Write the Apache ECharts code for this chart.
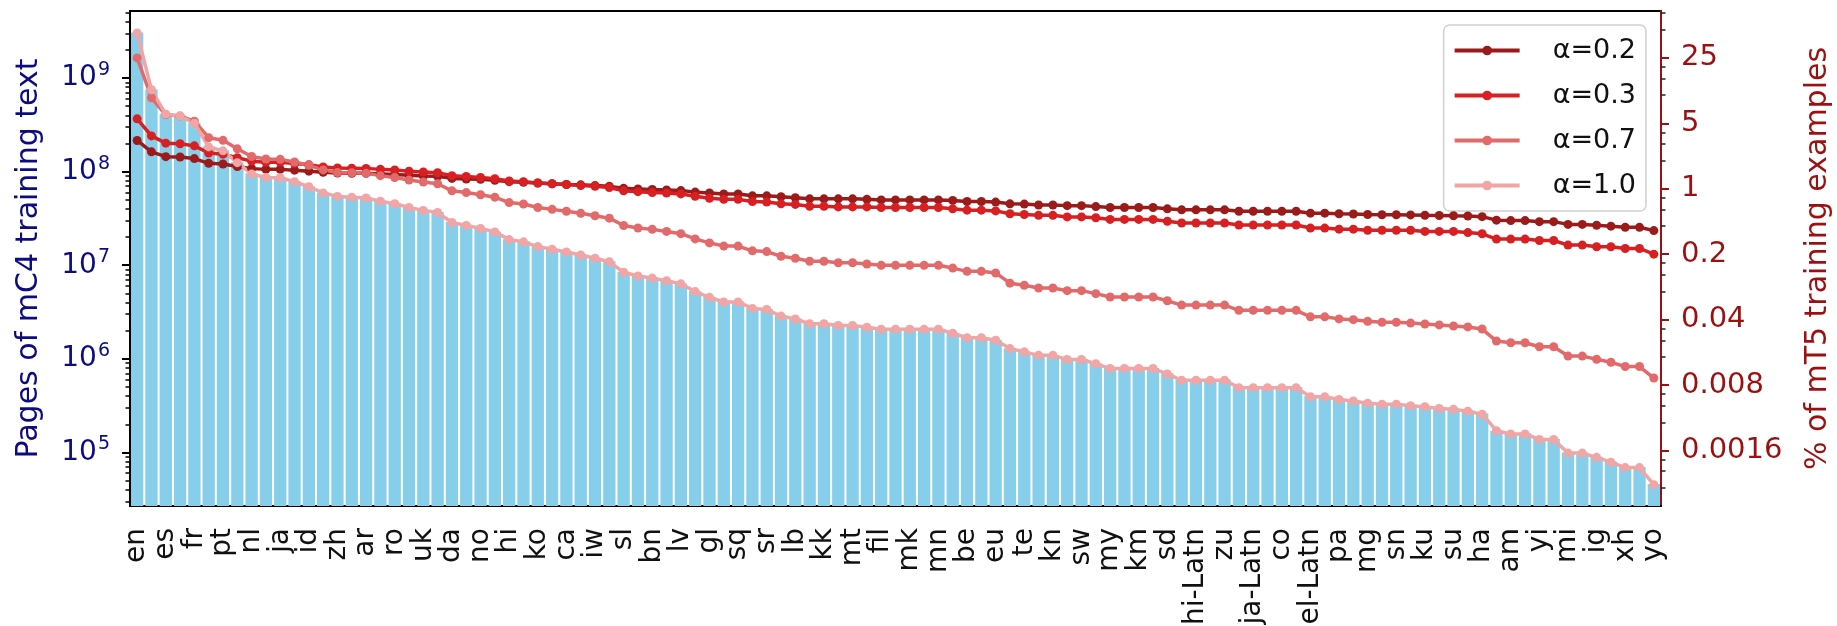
<!DOCTYPE html>
<html>
<head>
<meta charset="utf-8">
<script src="https://cdn.jsdelivr.net/npm/echarts@6/dist/echarts.min.js"></script>
<style>
html, body { margin: 0; padding: 0; background: #fff; }
#main { width: 1837px; height: 626px; }
</style>
</head>
<body>
<div id="main"></div>
<script>
// mC4 languages, sorted by number of pages
var languages = ['en','ru','es','de','fr','it','pt','pl','nl','tr',
  'ja','vi','id','cs','zh','fa','ar','sv','ro','el',
  'uk','hu','da','fi','no','bg','hi','sk','ko','th',
  'ca','ms','iw','lt','sl','mr','bn','et','lv','az',
  'gl','cy','sq','ta','sr','ne','lb','hy','kk','ka',
  'mt','af','fil','is','mk','ml','mn','ur','be','la',
  'eu','tg','te','fy','kn','ky','sw','so','my','uz',
  'km','ru-Latn','sd','gu','hi-Latn','jv','zu','si','ja-Latn','eo',
  'co','ga','el-Latn','zh-Latn','pa','ceb','mg','ps','sn','gd',
  'ku','hmn','su','ht','ha','ny','am','bg-Latn','yi','lo',
  'mi','sm','ig','haw','xh','st','yo'];

// pages of mC4 training text, in millions
var pagesMillions = [3067, 756, 416, 397, 333, 186, 169, 126, 96, 88,
  87, 79, 70, 60, 55, 54, 53, 49, 46, 42,
  39, 37, 29, 27, 25, 23, 19, 18, 16, 15,
  14, 13, 12, 11, 8.5, 7.8, 7.4, 6.9, 6.4, 5.3,
  4.6, 4.1, 4.1, 3.5, 3.4, 2.9, 2.7, 2.4, 2.4, 2.3,
  2.3, 2.2, 2.1, 2.1, 2.1, 2.1, 2.1, 1.9, 1.7, 1.7,
  1.6, 1.3, 1.2, 1.1, 1.1, 1.0, 1.0, 0.9, 0.8, 0.8,
  0.8, 0.8, 0.7, 0.6, 0.6, 0.6, 0.6, 0.5, 0.5, 0.5,
  0.5, 0.5, 0.4, 0.4, 0.37, 0.36, 0.34, 0.33, 0.33, 0.32,
  0.31, 0.30, 0.29, 0.28, 0.26, 0.17, 0.16, 0.16, 0.14, 0.14,
  0.10, 0.10, 0.09, 0.08, 0.07, 0.07, 0.046];

// % of mT5 training examples for each alpha
var shareAlpha02 = [3.28, 2.48, 2.20, 2.18, 2.10, 1.87, 1.84, 1.73, 1.64, 1.61,
  1.61, 1.58, 1.54, 1.50, 1.47, 1.46, 1.46, 1.44, 1.42, 1.39,
  1.37, 1.36, 1.29, 1.27, 1.26, 1.23, 1.19, 1.17, 1.15, 1.13,
  1.11, 1.10, 1.08, 1.06, 1.01, 0.995, 0.98, 0.97, 0.955, 0.92,
  0.90, 0.88, 0.88, 0.84, 0.84, 0.82, 0.80, 0.78, 0.78, 0.78,
  0.78, 0.77, 0.76, 0.76, 0.76, 0.76, 0.76, 0.75, 0.73, 0.73,
  0.72, 0.69, 0.685, 0.67, 0.67, 0.66, 0.66, 0.645, 0.63, 0.63,
  0.63, 0.63, 0.61, 0.595, 0.595, 0.595, 0.595, 0.574, 0.574, 0.574,
  0.574, 0.574, 0.548, 0.548, 0.54, 0.537, 0.531, 0.528, 0.528, 0.525,
  0.521, 0.518, 0.514, 0.511, 0.503, 0.462, 0.457, 0.457, 0.445, 0.445,
  0.416, 0.416, 0.407, 0.398, 0.387, 0.387, 0.357];

var shareAlpha03 = [5.58, 3.67, 3.07, 3.02, 2.87, 2.41, 2.34, 2.14, 1.97, 1.92,
  1.92, 1.86, 1.80, 1.71, 1.67, 1.66, 1.65, 1.61, 1.59, 1.54,
  1.51, 1.48, 1.38, 1.35, 1.32, 1.28, 1.21, 1.19, 1.15, 1.13,
  1.11, 1.08, 1.06, 1.03, 0.95, 0.93, 0.91, 0.90, 0.88, 0.83,
  0.79, 0.77, 0.77, 0.73, 0.72, 0.69, 0.68, 0.65, 0.65, 0.64,
  0.64, 0.64, 0.63, 0.63, 0.63, 0.63, 0.63, 0.61, 0.59, 0.59,
  0.58, 0.54, 0.53, 0.52, 0.52, 0.50, 0.50, 0.49, 0.47, 0.47,
  0.47, 0.47, 0.45, 0.43, 0.43, 0.43, 0.43, 0.41, 0.41, 0.41,
  0.41, 0.41, 0.38, 0.38, 0.37, 0.37, 0.36, 0.36, 0.36, 0.36,
  0.35, 0.35, 0.35, 0.34, 0.33, 0.29, 0.29, 0.29, 0.28, 0.28,
  0.25, 0.25, 0.24, 0.24, 0.23, 0.23, 0.20];

var shareAlpha07 = [25.0, 9.37, 6.17, 5.97, 5.27, 3.51, 3.29, 2.67, 2.21, 2.08,
  2.06, 1.93, 1.78, 1.59, 1.49, 1.48, 1.46, 1.38, 1.32, 1.24,
  1.18, 1.13, 0.95, 0.91, 0.863, 0.813, 0.711, 0.686, 0.630, 0.602,
  0.574, 0.546, 0.515, 0.485, 0.405, 0.381, 0.368, 0.350, 0.331, 0.291,
  0.264, 0.244, 0.244, 0.217, 0.213, 0.190, 0.181, 0.168, 0.168, 0.162,
  0.162, 0.157, 0.152, 0.152, 0.152, 0.152, 0.152, 0.142, 0.131, 0.131,
  0.126, 0.098, 0.093, 0.087, 0.087, 0.0815, 0.0815, 0.0757, 0.0697, 0.0697,
  0.0697, 0.0697, 0.0635, 0.0571, 0.0571, 0.0571, 0.0571, 0.0502, 0.0502, 0.0502,
  0.0502, 0.0502, 0.0428, 0.0428, 0.0407, 0.0399, 0.0383, 0.0375, 0.0375, 0.0367,
  0.0359, 0.0351, 0.0342, 0.0334, 0.0317, 0.0236, 0.0226, 0.0226, 0.0205, 0.0205,
  0.0163, 0.0163, 0.0151, 0.0140, 0.0126, 0.0126, 0.0095];

var shareAlpha10 = [46.2, 11.4, 6.26, 5.97, 5.01, 2.80, 2.54, 1.90, 1.44, 1.32,
  1.31, 1.19, 1.05, 0.903, 0.828, 0.813, 0.797, 0.737, 0.692, 0.632,
  0.587, 0.557, 0.436, 0.406, 0.376, 0.346, 0.286, 0.271, 0.241, 0.226,
  0.211, 0.196, 0.181, 0.166, 0.128, 0.117, 0.111, 0.104, 0.0963, 0.0797,
  0.0692, 0.0617, 0.0617, 0.0527, 0.0512, 0.0436, 0.0406, 0.0361, 0.0361, 0.0346,
  0.0346, 0.0331, 0.0316, 0.0316, 0.0316, 0.0316, 0.0316, 0.0286, 0.0256, 0.0256,
  0.0241, 0.0196, 0.0181, 0.0166, 0.0166, 0.0150, 0.0150, 0.0135, 0.0120, 0.0120,
  0.0120, 0.0120, 0.0105, 0.0090, 0.0090, 0.0090, 0.0090, 0.0075, 0.0075, 0.0075,
  0.0075, 0.0075, 0.0060, 0.0060, 0.0056, 0.0054, 0.0051, 0.0050, 0.0050, 0.0048,
  0.0047, 0.0045, 0.0044, 0.0042, 0.0039, 0.0026, 0.0024, 0.0024, 0.0021, 0.0021,
  0.0015, 0.0015, 0.00135, 0.0012, 0.00105, 0.00105, 0.00069];

// tick values
var leftTickValues = [1e5, 1e6, 1e7, 1e8, 1e9];
var rightTickValues = [0.0016, 0.008, 0.04, 0.2, 1, 5, 25];

var leftMin = 2.68e4, leftMax = 5.2e9;
var rightMin = 4.08e-4, rightMax = 79.2;

var NAVY = '#0c0c80';
var DARKRED = '#9b1111';
var FONT = 'DejaVu Sans';

// log minor ticks (2..9 x 10^k on the left, 2..4 x 5^k on the right)
var leftMinor = [];
for (var k = 4; k <= 9; k++) {
  for (var m = 2; m <= 9; m++) {
    var v = m * Math.pow(10, k);
    if (v > leftMin && v < leftMax) leftMinor.push(v);
  }
}
var rightMinor = [];
for (var k2 = -5; k2 <= 2; k2++) {
  for (var m2 = 2; m2 <= 4; m2++) {
    var v2 = m2 * Math.pow(5, k2);
    if (v2 > rightMin && v2 < rightMax) rightMinor.push(v2);
  }
}

var pageValues = pagesMillions.map(function (p) { return p * 1e6; });

var myChart = echarts.init(document.getElementById('main'));

function lineSeries(name, data, color) {
  return {
    name: name,
    type: 'line',
    yAxisIndex: 1,
    data: data,
    symbol: 'circle',
    symbolSize: 9,
    showAllSymbol: true,
    lineStyle: { width: 3.5, color: color },
    itemStyle: { color: color },
    z: 5
  };
}

var option = {
  animation: false,
  backgroundColor: '#fff',
  textStyle: { fontFamily: FONT },
  grid: {
    left: 130, right: 176, top: 11, bottom: 120,
    show: true, borderColor: '#000', borderWidth: 2,
    containLabel: false, outerBoundsMode: 'none'
  },
  legend: {
    data: ['α=0.2', 'α=0.3', 'α=0.7', 'α=1.0'],
    orient: 'vertical',
    right: 191, top: 25,
    itemWidth: 65, itemHeight: 12, itemGap: 18,
    padding: [12, 10, 12, 9],
    backgroundColor: 'rgba(255,255,255,0.85)',
    borderColor: '#d0d0d0', borderWidth: 1.5, borderRadius: 6,
    lineStyle: { width: 4 },
    formatter: function (name) { return '{sp|}{t|' + name + '}'; },
    textStyle: {
      fontSize: 27, color: '#111', fontFamily: FONT,
      rich: {
        sp: { width: 28, height: 10 },
        t: { fontSize: 27, color: '#111', fontFamily: FONT }
      }
    }
  },
  xAxis: {
    type: 'category',
    data: languages,
    axisLine: { lineStyle: { color: '#000', width: 2 } },
    axisTick: { alignWithLabel: true, interval: 0, length: 9, lineStyle: { color: '#000', width: 2 } },
    axisLabel: {
      interval: 1, rotate: 90, fontSize: 28, color: '#111', margin: 22, fontFamily: FONT,
      showMinLabel: true, showMaxLabel: true, hideOverlap: false
    },
    splitLine: { show: false }
  },
  yAxis: [
    {
      type: 'log', position: 'left', min: leftMin, max: leftMax,
      name: 'Pages of mC4 training text', nameLocation: 'middle', nameGap: 86, nameRotate: 90,
      nameTextStyle: { color: NAVY, fontSize: 30, fontFamily: FONT },
      axisLine: { show: true, lineStyle: { color: '#000', width: 2 } },
      axisTick: { show: true, length: 8, customValues: leftTickValues, lineStyle: { color: '#000', width: 2 } },
      axisLabel: {
        customValues: leftTickValues, margin: 20, color: NAVY,
        formatter: function (v) { return '{b|10}{s|' + Math.round(Math.log10(v)) + '}'; },
        rich: {
          b: { fontSize: 28, color: NAVY, fontFamily: FONT },
          s: { fontSize: 19, color: NAVY, fontFamily: FONT, padding: [0, 0, 16, 1] }
        }
      },
      splitLine: { show: false }
    },
    {
      type: 'log', logBase: 5, position: 'right', min: rightMin, max: rightMax,
      name: '% of mT5 training examples', nameLocation: 'middle', nameGap: 142, nameRotate: 90,
      nameTextStyle: { color: DARKRED, fontSize: 30, fontFamily: FONT },
      axisLine: { show: true, lineStyle: { color: DARKRED, width: 2 } },
      axisTick: { show: true, length: 8, customValues: rightTickValues, lineStyle: { color: DARKRED, width: 2 } },
      axisLabel: {
        customValues: rightTickValues, margin: 20, color: DARKRED, fontSize: 29, fontFamily: FONT,
        formatter: function (v) { return String(+v.toPrecision(2)); }
      },
      splitLine: { show: false }
    },
    {
      type: 'log', position: 'left', min: leftMin, max: leftMax,
      axisLine: { show: false },
      axisTick: { show: true, length: 4.5, customValues: leftMinor, lineStyle: { color: '#000', width: 1.5 } },
      axisLabel: { show: false },
      splitLine: { show: false }
    },
    {
      type: 'log', logBase: 5, position: 'right', min: rightMin, max: rightMax,
      axisLine: { show: false },
      axisTick: { show: true, length: 4.5, customValues: rightMinor, lineStyle: { color: '#222', width: 1.5 } },
      axisLabel: { show: false },
      splitLine: { show: false }
    }
  ],
  series: [
    {
      name: 'pages',
      type: 'bar',
      yAxisIndex: 0,
      data: pageValues,
      barCategoryGap: '14%',
      itemStyle: { color: '#87ceeb' },
      clip: true,
      z: 2
    },
    lineSeries('α=0.2', shareAlpha02, '#9b1b1b'),
    lineSeries('α=0.3', shareAlpha03, '#d81f22'),
    lineSeries('α=0.7', shareAlpha07, '#e36a6a'),
    lineSeries('α=1.0', shareAlpha10, '#f2a5a5')
  ]
};

myChart.setOption(option);
</script>
</body>
</html>
